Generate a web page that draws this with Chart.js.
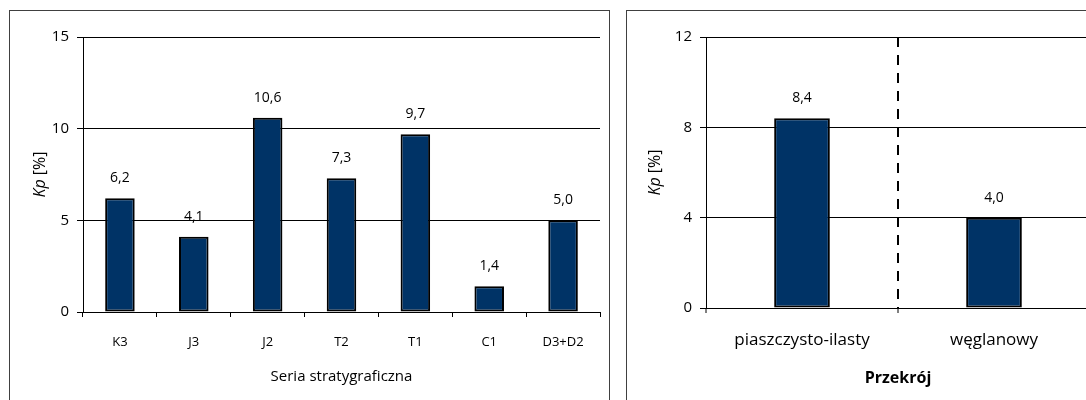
<!DOCTYPE html>
<html>
<head>
<meta charset="utf-8">
<script src="https://cdn.jsdelivr.net/npm/chart.js@4.4.0/dist/chart.umd.min.js"></script>
<style>
  html, body { margin: 0; padding: 0; background: #fff; overflow: hidden; width: 1086px; height: 400px; }
  .box { position: absolute; border: 1px solid #404040; box-sizing: border-box; }
  #boxLeft { left: 9px; top: 10px; width: 601px; height: 420px; }
  #boxRight { left: 626px; top: 10px; width: 500px; height: 420px; }
  canvas { position: absolute; }
  #seriesChart { left: 10px; top: 11px; }
  #sectionChart { left: 627px; top: 11px; }
</style>
</head>
<body>
<div class="box" id="boxLeft"></div>
<div class="box" id="boxRight"></div>
<canvas id="seriesChart" width="598" height="389"></canvas>
<canvas id="sectionChart" width="480" height="389"></canvas>
<script>
// left chart: Kp by stratigraphic series
var seriesLabels = ['K3', 'J3', 'J2', 'T2', 'T1', 'C1', 'D3+D2'];
var seriesValues = [6.2, 4.1, 10.6, 7.3, 9.7, 1.4, 5.0];
var seriesTicks = [0, 5, 10, 15];

// right chart: Kp by cross-section type
var sectionLabels = ['piaszczysto-ilasty', 'węglanowy'];
var sectionValues = [8.4, 4.0];
var sectionTicks = [0, 4, 8, 12];

var textColor = '#000';
var barColor = '#003366';
Chart.defaults.font.family = '"Open Sans", sans-serif';
Chart.defaults.color = textColor;

// values above the bars, decimal comma
var valueLabels = {
    id: 'valueLabels',
    afterDatasetsDraw: function (chart) {
        var ctx = chart.ctx;
        var data = chart.data.datasets[0].data;
        ctx.save();
        ctx.font = '14px "Open Sans"';
        ctx.fillStyle = textColor;
        ctx.textAlign = 'center';
        ctx.textBaseline = 'middle';
        chart.getDatasetMeta(0).data.forEach(function (bar, i) {
            ctx.fillText(data[i].toFixed(1).replace('.', ','), bar.x, bar.y - 20);
        });
        ctx.restore();
    }
};

// y title "Kp [%]" with italic Kp
var kpTitle = {
    id: 'kpTitle',
    afterDraw: function (chart, args, opts) {
        var ctx = chart.ctx, area = chart.chartArea;
        ctx.save();
        ctx.translate(area.left - opts.offset, (area.top + area.bottom) / 2);
        ctx.rotate(-Math.PI / 2);
        ctx.fillStyle = textColor;
        ctx.textBaseline = 'middle';
        ctx.textAlign = 'left';
        ctx.font = 'italic 16px "Open Sans"';
        var w1 = ctx.measureText('Kp').width;
        ctx.font = '16px "Open Sans"';
        var w2 = ctx.measureText(' [%]').width;
        var start = -(w1 + w2) / 2;
        ctx.font = 'italic 16px "Open Sans"';
        ctx.fillText('Kp', start, 0);
        ctx.font = '16px "Open Sans"';
        ctx.fillText(' [%]', start + w1, 0);
        ctx.restore();
    }
};

function makeChart(id, o) {
    return new Chart(document.getElementById(id), {
        type: 'bar',
        data: {
            labels: o.labels,
            datasets: [{
                data: o.values,
                backgroundColor: barColor,
                borderColor: '#000',
                borderWidth: 2,
                borderSkipped: false,
                barPercentage: o.barPct,
                categoryPercentage: 1
            }]
        },
        options: {
            responsive: false,
            animation: false,
            layout: { padding: { top: 26, right: o.padRight, left: 0, bottom: 0 } },
            plugins: {
                legend: { display: false },
                tooltip: { enabled: false },
                kpTitle: { offset: o.titleOffset }
            },
            scales: {
                x: {
                    offset: true,
                    afterFit: function (s) { s.height = o.xHeight; },
                    grid: {
                        offset: true,
                        drawOnChartArea: true,
                        color: o.xGridColor,
                        lineWidth: o.xGridWidth,
                        tickColor: '#000',
                        tickWidth: 1,
                        tickLength: 5
                    },
                    border: { color: '#000', width: 1, dash: o.xDash },
                    ticks: { font: { size: o.xTickSize }, padding: o.xTickPad, maxRotation: 0, autoSkip: false },
                    title: {
                        display: true,
                        text: o.xTitle,
                        font: { size: o.xTitleSize, weight: o.xTitleWeight },
                        padding: { top: 0, bottom: o.xTitlePad }
                    }
                },
                y: {
                    min: o.ticks[0],
                    max: o.ticks[o.ticks.length - 1],
                    afterFit: function (s) { s.width = o.yWidth; },
                    afterBuildTicks: function (s) {
                        s.ticks = o.ticks.map(function (v) { return { value: v }; });
                    },
                    grid: { color: '#000', lineWidth: 1, tickLength: 6, tickColor: '#000' },
                    border: { color: '#000', width: 1 },
                    ticks: { font: { size: 15 }, padding: 8 }
                }
            }
        },
        plugins: [valueLabels, kpTitle]
    });
}

makeChart('seriesChart', {
    labels: seriesLabels,
    values: seriesValues,
    ticks: seriesTicks,
    barPct: 0.4,
    padRight: 8,
    titleOffset: 43,
    xHeight: 88,
    yWidth: 73,
    xTickSize: 13,
    xTickPad: 17,
    xTitle: 'Seria stratygraficzna',
    xTitleSize: 15,
    xTitleWeight: 'normal',
    xTitlePad: 14,
    xDash: [],
    xGridWidth: 1,
    xGridColor: function (c) { return c.index === seriesLabels.length ? '#888' : 'rgba(0,0,0,0)'; }
});

makeChart('sectionChart', {
    labels: sectionLabels,
    values: sectionValues,
    ticks: sectionTicks,
    barPct: 0.29,
    padRight: 17,
    titleOffset: 51,
    xHeight: 92,
    yWidth: 79,
    xTickSize: 17,
    xTickPad: 17,
    xTitle: 'Przekrój',
    xTitleSize: 16,
    xTitleWeight: 'bold',
    xTitlePad: 12,
    xDash: [10, 8],
    xGridWidth: 2,
    xGridColor: function (c) { return c.index === 1 ? '#000' : 'rgba(0,0,0,0)'; }
});
</script>
</body>
</html>
